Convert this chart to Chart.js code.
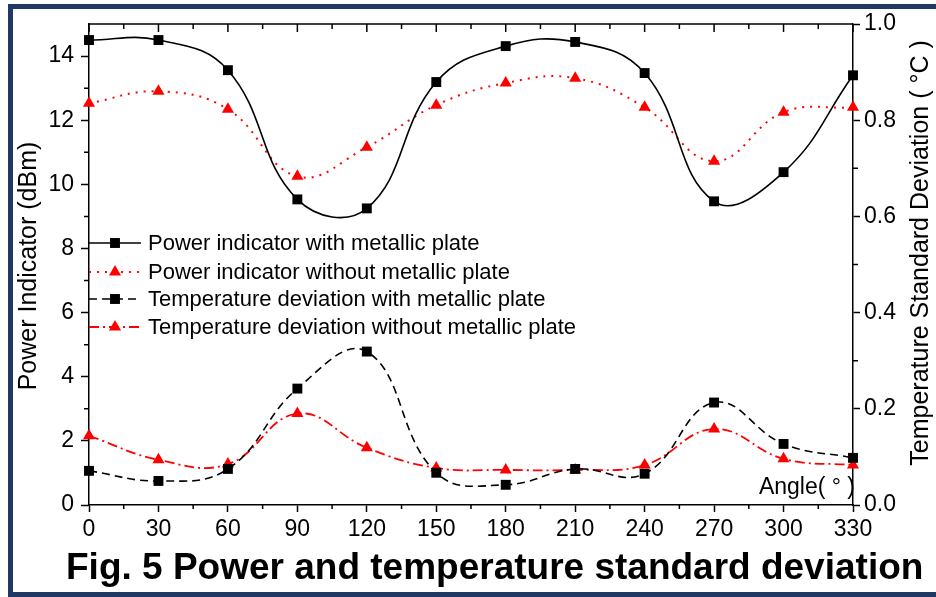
<!DOCTYPE html>
<html>
<head>
<meta charset="utf-8">
<script src="https://cdn.jsdelivr.net/npm/chart.js@4.4.0/dist/chart.umd.min.js"></script>
<style>
  html, body { margin: 0; padding: 0; background: #fff; }
  #wrap { position: relative; width: 936px; height: 597px; overflow: hidden; }
  #frame { position: absolute; left: 8px; top: 4px; width: 940px; height: 583px;
           border: 5px solid #203864; border-right: none; }
  canvas { position: absolute; left: 0; top: 0; }
</style>
</head>
<body>
<div id="wrap">
  <div id="frame"></div>
  <canvas id="myChart" width="936" height="597"></canvas>
</div>
<script>
// angle (deg)
var angles = [0, 30, 60, 90, 120, 150, 180, 210, 240, 270, 300, 330];
// power indicator, dBm (left axis)
var powerWith    = [14.5, 14.5, 13.56, 9.53, 9.25, 13.19, 14.31, 14.44, 13.47, 9.47, 10.38, 13.4];
var powerWithout = [12.53, 12.9, 12.34, 10.25, 11.16, 12.47, 13.16, 13.31, 12.4, 10.72, 12.25, 12.4];
// temperature standard deviation, degC (right axis)
var tempWith     = [0.071, 0.05, 0.075, 0.242, 0.319, 0.067, 0.042, 0.075, 0.065, 0.213, 0.127, 0.098];
var tempWithout  = [0.144, 0.094, 0.085, 0.19, 0.119, 0.077, 0.073, 0.073, 0.083, 0.158, 0.096, 0.083];

var seriesNames = [
  'Power indicator with metallic plate',
  'Power indicator without metallic plate',
  'Temperature deviation with metallic plate',
  'Temperature deviation without metallic plate'
];
var xTicks = [0, 30, 60, 90, 120, 150, 180, 210, 240, 270, 300, 330];
var powerTicks = [0, 2, 4, 6, 8, 10, 12, 14];
var tempTicks = ['0.0', '0.2', '0.4', '0.6', '0.8', '1.0'];

var FONT = '"Liberation Sans", Arial, sans-serif';

function pts(vals) {
  return angles.map(function(a, i) { return { x: a, y: vals[i] }; });
}

function marker(ctx, style, x, y, r, color) {
  ctx.fillStyle = color;
  ctx.beginPath();
  if (style === 'rect') {
    var s = r * Math.SQRT1_2;
    ctx.rect(x - s, y - s, 2 * s, 2 * s);
  } else {
    ctx.moveTo(x, y - r);
    ctx.lineTo(x + r * 0.866, y + r / 2);
    ctx.lineTo(x - r * 0.866, y + r / 2);
    ctx.closePath();
  }
  ctx.fill();
}

// frame, minor ticks, legend, labels
var extras = {
  id: 'extras',
  afterDraw: function(chart) {
    var ctx = chart.ctx, a = chart.chartArea;
    var x = chart.scales.x, y = chart.scales.y, y1 = chart.scales.y1;
    ctx.save();
    ctx.strokeStyle = '#000';
    ctx.lineWidth = 1.5;
    ctx.beginPath();
    ctx.moveTo(a.left, a.top); ctx.lineTo(a.right, a.top);
    for (var v = 0; v <= 330; v += 15) {
      var px = x.getPixelForValue(v), major = v % 30 === 0;
      ctx.moveTo(px, a.top); ctx.lineTo(px, a.top + (major ? 8 : 5));
      if (!major) { ctx.moveTo(px, a.bottom); ctx.lineTo(px, a.bottom + 4); }
    }
    for (v = 1; v < 15; v += 2) {
      var py = y.getPixelForValue(v);
      ctx.moveTo(a.left, py); ctx.lineTo(a.left - 5, py);
    }
    for (v = 0.1; v < 1; v += 0.2) {
      py = y1.getPixelForValue(v);
      ctx.moveTo(a.right, py); ctx.lineTo(a.right + 5, py);
    }
    ctx.stroke();

    // legend
    var rows = [243, 272, 299, 327];
    chart.data.datasets.forEach(function(ds, i) {
      var ly = rows[i];
      ctx.save();
      ctx.strokeStyle = ds.borderColor;
      ctx.lineWidth = ds.borderWidth;
      ctx.setLineDash(ds.borderDash || []);
      ctx.beginPath(); ctx.moveTo(a.left, ly); ctx.lineTo(a.left + 52, ly); ctx.stroke();
      ctx.restore();
      marker(ctx, ds.pointStyle, a.left + 26, ly, ds.pointRadius, ds.pointBackgroundColor);
      ctx.fillStyle = '#000';
      ctx.font = '22px ' + FONT;
      ctx.textAlign = 'left';
      ctx.textBaseline = 'middle';
      ctx.fillText(ds.label, a.left + 59, ly + 1);
    });

    // axis titles
    ctx.fillStyle = '#000';
    ctx.textAlign = 'center';
    ctx.textBaseline = 'middle';
    ctx.font = '25px ' + FONT;
    ctx.save();
    ctx.translate(29, 266);
    ctx.rotate(-Math.PI / 2);
    ctx.fillText('Power Indicator (dBm)', 0, 0);
    ctx.restore();
    ctx.save();
    ctx.translate(921, 253);
    ctx.rotate(-Math.PI / 2);
    ctx.fillText('Temperature Standard Deviation ( \u00B0C )', 0, 0);
    ctx.restore();

    ctx.font = '23px ' + FONT;
    ctx.textAlign = 'right';
    ctx.fillText('Angle( \u00B0 )', a.right + 2, a.bottom - 17);

    // caption
    ctx.font = 'bold 37px ' + FONT;
    ctx.textAlign = 'left';
    ctx.textBaseline = 'alphabetic';
    ctx.fillText('Fig. 5 Power and temperature standard deviation', 66, 579);
    ctx.restore();
  }
};

var ctx = document.getElementById('myChart').getContext('2d');
var myChart = new Chart(ctx, {
  type: 'line',
  plugins: [extras],
  data: {
    datasets: [{
      label: seriesNames[0],
      data: pts(powerWith),
      yAxisID: 'y',
      borderColor: '#000', borderWidth: 1.6,
      pointStyle: 'rect', pointRadius: 7,
      pointBackgroundColor: '#000', pointBorderWidth: 0,
      tension: 0.42, clip: false
    }, {
      label: seriesNames[1],
      data: pts(powerWithout),
      yAxisID: 'y',
      borderColor: '#ff0000', borderWidth: 2, borderDash: [2, 6],
      pointStyle: 'triangle', pointRadius: 7,
      pointBackgroundColor: '#ff0000', pointBorderWidth: 0,
      tension: 0.42, clip: false
    }, {
      label: seriesNames[2],
      data: pts(tempWith),
      yAxisID: 'y1',
      borderColor: '#000', borderWidth: 1.6, borderDash: [8, 5],
      pointStyle: 'rect', pointRadius: 7,
      pointBackgroundColor: '#000', pointBorderWidth: 0,
      tension: 0.42, clip: false
    }, {
      label: seriesNames[3],
      data: pts(tempWithout),
      yAxisID: 'y1',
      borderColor: '#ff0000', borderWidth: 1.8, borderDash: [10, 4, 2, 4],
      pointStyle: 'triangle', pointRadius: 7,
      pointBackgroundColor: '#ff0000', pointBorderWidth: 0,
      tension: 0.42, clip: false
    }]
  },
  options: {
    responsive: false,
    animation: false,
    devicePixelRatio: 1,
    events: [],
    layout: { padding: { top: 24, left: 0, right: 0, bottom: 0 } },
    plugins: {
      legend: { display: false },
      tooltip: { enabled: false },
      title: { display: false }
    },
    scales: {
      x: {
        type: 'linear',
        min: 0, max: 330,
        afterFit: function(scale) { scale.height = 92; },
        afterBuildTicks: function(scale) {
          scale.ticks = xTicks.map(function(v) { return { value: v }; });
        },
        border: { color: '#000', width: 1.5 },
        grid: { drawOnChartArea: false, tickLength: 7, tickColor: '#000', tickWidth: 1.5 },
        ticks: {
          color: '#000', padding: 4, maxRotation: 0, autoSkip: false,
          font: { family: FONT, size: 23 },
          callback: function(v) { return String(v); }
        }
      },
      y: {
        position: 'left',
        min: 0, max: 15,
        afterFit: function(scale) { scale.width = 89; },
        afterBuildTicks: function(scale) {
          scale.ticks = powerTicks.map(function(v) { return { value: v }; });
        },
        border: { color: '#000', width: 1.5 },
        grid: { drawOnChartArea: false, tickLength: 8, tickColor: '#000', tickWidth: 1.5 },
        ticks: {
          color: '#000', padding: 7,
          font: { family: FONT, size: 23 },
          callback: function(v) { return String(v); }
        }
      },
      y1: {
        position: 'right',
        min: 0, max: 1,
        afterFit: function(scale) { scale.width = 83; },
        afterBuildTicks: function(scale) {
          scale.ticks = tempTicks.map(function(t) { return { value: parseFloat(t) }; });
        },
        border: { color: '#000', width: 1.5 },
        grid: { drawOnChartArea: false, tickLength: 7, tickColor: '#000', tickWidth: 1.5 },
        ticks: {
          color: '#000', padding: 4,
          font: { family: FONT, size: 23 },
          callback: function(v) { return Number(v).toFixed(1); }
        }
      }
    }
  }
});
</script>
</body>
</html>
